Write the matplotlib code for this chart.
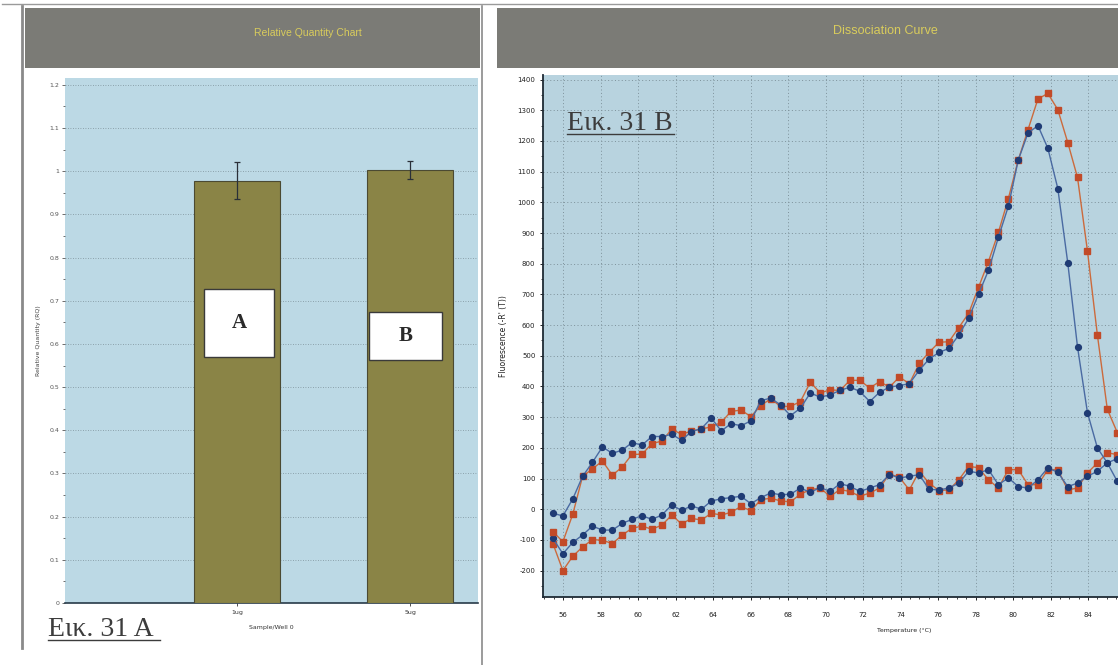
import numpy as np
import matplotlib
matplotlib.use("Agg")
import matplotlib.pyplot as plt
from matplotlib.patches import Rectangle
from matplotlib.lines import Line2D
from matplotlib.ticker import MultipleLocator, FixedLocator, FuncFormatter

plt.rcParams["axes.unicode_minus"] = False

W, H = 1118, 665

# ---- Relative quantity chart ----
rq_samples = ["1ug", "5ug"]
rq_values = [0.978, 1.003]
rq_errors = [0.043, 0.02]
rq_yticks = [0.0, 0.1, 0.2, 0.3, 0.4, 0.5, 0.6, 0.7, 0.8, 0.9, 1.0, 1.1, 1.2]

# ---- Dissociation (melt) curves ----
temp_ticks = [56, 58, 60, 62, 64, 66, 68, 70, 72, 74, 76, 78, 80, 82, 84]
temps = [55.46, 55.99, 56.52, 57.04, 57.57, 58.10, 58.63, 59.16, 59.68, 60.21,
         60.74, 61.27, 61.80, 62.32, 62.85, 63.38, 63.91, 64.44, 64.96, 65.49,
         66.02, 66.55, 67.08, 67.60, 68.13, 68.66, 69.19, 69.72, 70.24, 70.77,
         71.30, 71.83, 72.36, 72.88, 73.41, 73.94, 74.47, 75.00, 75.52, 76.05,
         76.58, 77.11, 77.64, 78.16, 78.69, 79.22, 79.75, 80.28, 80.80, 81.33,
         81.86, 82.39, 82.92, 83.44, 83.97, 84.50, 85.03, 85.56]

blue_high = [-13, -22, 34, 107, 153, 203, 182, 193, 217, 209,
             237, 237, 244, 225, 253, 263, 297, 255, 279, 272,
             288, 354, 362, 340, 305, 329, 379, 365, 373, 387,
             398, 384, 351, 381, 398, 403, 409, 453, 489, 511,
             524, 568, 623, 701, 778, 886, 987, 1138, 1226, 1250,
             1176, 1045, 803, 529, 315, 200, 151, 91]
red_high = [-73, -106, -16, 107, 132, 157, 111, 138, 179, 179,
            214, 222, 261, 244, 255, 261, 269, 283, 319, 323,
            302, 338, 360, 335, 335, 351, 414, 379, 389, 387,
            420, 420, 395, 416, 398, 431, 409, 475, 511, 544,
            546, 592, 639, 723, 807, 902, 1012, 1138, 1237, 1337,
            1355, 1302, 1195, 1081, 842, 568, 326, 250]
blue_low = [-95, -145, -108, -84, -55, -68, -68, -46, -33, -21,
            -33, -19, 14, -4, 11, 0, 27, 34, 38, 42,
            18, 38, 53, 47, 49, 69, 55, 71, 58, 83,
            75, 58, 69, 80, 113, 102, 107, 113, 65, 63,
            69, 85, 124, 118, 129, 80, 102, 74, 69, 96,
            135, 120, 74, 85, 107, 124, 151, 165]
red_low = [-112, -200, -153, -123, -99, -101, -112, -84, -62, -55,
           -65, -52, -19, -48, -30, -35, -13, -19, -10, 9,
           -5, 31, 36, 27, 24, 49, 64, 69, 42, 64,
           58, 42, 53, 69, 115, 104, 63, 124, 85, 61,
           63, 96, 140, 135, 96, 69, 129, 129, 80, 80,
           129, 129, 63, 69, 118, 151, 184, 178]

HEADER = "#7b7b76"
TITLE = "#d9cc5c"
BG_LEFT = "#bcd9e5"
BG_RIGHT = "#b8d3df"
BAR = "#8a8446"
GRID = "#7d919a"

fig = plt.figure(figsize=(W / 100, H / 100), dpi=100)
fig.patch.set_facecolor("white")


def fx(x):
    return x / W


def fy(y):
    return 1 - y / H


def px_axes(x0, y0, x1, y1):
    return fig.add_axes([fx(x0), fy(y1), (x1 - x0) / W, (y1 - y0) / H])


def px_rect(x0, y0, x1, y1, **kw):
    fig.add_artist(Rectangle((fx(x0), fy(y1)), (x1 - x0) / W, (y1 - y0) / H,
                             transform=fig.transFigure, **kw))


def px_line(xs, ys, **kw):
    fig.add_artist(Line2D([fx(v) for v in xs], [fy(v) for v in ys],
                          transform=fig.transFigure, **kw))


# panel frames and title bars
px_line([2, 1118], [4, 4], color="#9a9a9a", lw=1.0)
px_line([22, 22], [6, 648], color="#8a8a8a", lw=2.0)
px_line([482, 482], [6, 665], color="#8a8a8a", lw=1.2)
px_rect(25, 8, 480, 68, facecolor=HEADER, edgecolor="none")
px_rect(497, 8, 1130, 68, facecolor=HEADER, edgecolor="none")
fig.text(fx(308), fy(33), "Relative Quantity Chart", color=TITLE,
         fontsize=7.5, family="Liberation Sans", ha="center", va="center")
fig.text(fx(885), fy(31), "Dissociation Curve", color=TITLE,
         fontsize=9, family="Liberation Sans", ha="center", va="center")

# ---- left: relative quantity bars ----
axL = px_axes(65, 78, 478, 603)
axL.set_facecolor(BG_LEFT)
xpos = np.arange(len(rq_samples))
axL.bar(xpos, rq_values, width=0.5, color=BAR, edgecolor="#4b4a32",
        linewidth=0.8, zorder=3)
axL.errorbar(xpos, rq_values, yerr=rq_errors, fmt="none", ecolor="#2a3038",
             elinewidth=0.9, capsize=2.5, capthick=0.9, zorder=4)
axL.set_xlim(-0.994, 1.393)
axL.set_ylim(0, 1.216)
axL.set_yticks(rq_yticks)
axL.yaxis.set_minor_locator(MultipleLocator(0.05))
axL.yaxis.set_major_formatter(FuncFormatter(lambda v, p: f"{v:g}"))
axL.set_xticks(xpos)
axL.set_xticklabels(rq_samples)
axL.tick_params(axis="y", labelsize=4.5, length=2, width=0.6,
                colors="#555555", pad=2)
axL.tick_params(axis="y", which="minor", length=1.5, width=0.6, colors="#555555")
axL.tick_params(axis="x", labelsize=4.5, length=2, width=0.6,
                colors="#333333", pad=3)
axL.grid(axis="y", which="major", color=GRID, linestyle=(0, (1, 2)),
         linewidth=0.6, zorder=0)
for s in ("top", "right", "left"):
    axL.spines[s].set_visible(False)
axL.spines["bottom"].set_color("#283a48")
axL.spines["bottom"].set_linewidth(1.2)
axL.set_ylabel("Relative Quantity (RQ)", fontsize=4.5, color="#444444",
               labelpad=6)
axL.set_xlabel("Sample/Well 0", fontsize=4.5, color="#333333", labelpad=7)

# boxed letters on the bars
for (x0, y0, x1, y1, letter) in [(204, 289, 274, 357, "A"),
                                 (369, 312, 442, 360, "B")]:
    px_rect(x0, y0, x1, y1, facecolor="white", edgecolor="#3a3a3a",
            linewidth=1.0, zorder=5)
    fig.text(fx((x0 + x1) / 2), fy((y0 + y1) / 2), letter,
             family="Liberation Serif", fontweight="bold", fontsize=15,
             color="#2a2a2a", ha="center", va="center", zorder=6)

# ---- right: dissociation curves ----
axR = px_axes(543, 75, 1130, 597)
axR.set_facecolor(BG_RIGHT)
blue_line, blue_mark = "#4a6aa2", "#1f3b74"
red_line, red_mark = "#cc6a3c", "#c24a28"
for series, lc, mc, mk in [(red_low, red_line, red_mark, "s"),
                           (blue_low, blue_line, blue_mark, "o"),
                           (red_high, red_line, red_mark, "s"),
                           (blue_high, blue_line, blue_mark, "o")]:
    axR.plot(temps, series, color=lc, lw=1.0, marker=mk, markersize=4.2,
             markerfacecolor=mc, markeredgecolor=mc, zorder=3)
axR.set_xlim(54.93, 86.24)
axR.set_ylim(-286, 1415)
axR.xaxis.set_major_locator(FixedLocator(temp_ticks))
axR.xaxis.set_minor_locator(MultipleLocator(0.5))
axR.yaxis.set_major_locator(MultipleLocator(100))
axR.yaxis.set_minor_locator(MultipleLocator(50))
axR.grid(which="major", color=GRID, linestyle=(0, (1, 2.5)), linewidth=0.7,
         zorder=0)
axR.tick_params(labelsize=5, length=2.5, width=0.7, colors="#222222", pad=3)
axR.tick_params(which="minor", length=1.5, width=0.6, colors="#222222")
axR.tick_params(axis="x", pad=8)
for s in ("top", "right"):
    axR.spines[s].set_visible(False)
for s in ("left", "bottom"):
    axR.spines[s].set_color("#1e2a34")
    axR.spines[s].set_linewidth(1.3)
axR.set_ylabel("Fluorescence (-R' (T))", fontsize=5.5, color="#222222",
               labelpad=7)
axR.set_xlabel("Temperature (°C)", fontsize=4.5, color="#222222", labelpad=7)
axR.xaxis.set_label_coords((904 - 543) / (1130 - 543), -0.06)

# figure captions
cap_kw = dict(family="Liberation Serif", fontsize=20, color="#3c3c3c",
              ha="left", va="baseline")
fig.text(fx(48), fy(636), "Εικ. 31 Α", **cap_kw)
px_line([48, 160], [640, 640], color="#3c3c3c", lw=1.0)
fig.text(fx(567), fy(130), "Εικ. 31 Β", **cap_kw)
px_line([567, 674], [134, 134], color="#3c3c3c", lw=1.0)

fig.savefig("out.png", dpi=100, facecolor="white")
